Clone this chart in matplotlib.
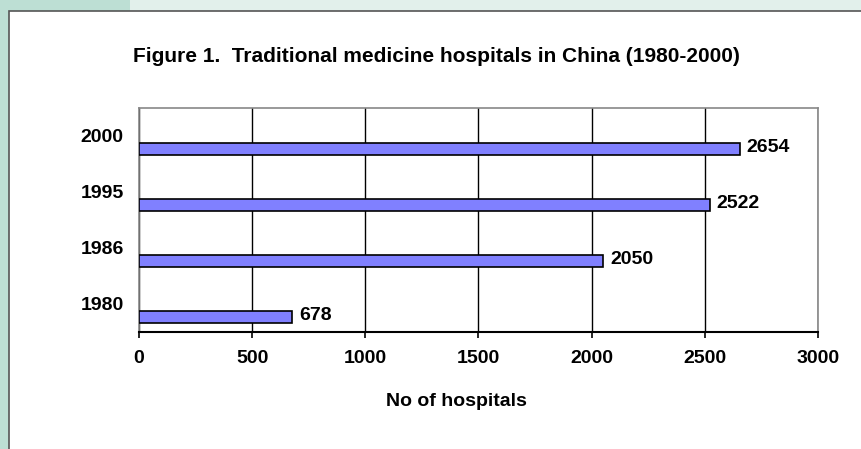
import matplotlib
matplotlib.use("Agg")
import matplotlib.pyplot as plt
from matplotlib.patches import Rectangle

# data
years = ["1980", "1986", "1995", "2000"]
hospitals = [678, 2050, 2522, 2654]
xticks = [0, 500, 1000, 1500, 2000, 2500, 3000]

plt.rcParams['font.family'] = ['Liberation Sans', 'DejaVu Sans']
plt.rcParams['font.weight'] = 'bold'

W, H = 862, 449
fig = plt.figure(figsize=(W / 100, H / 100), dpi=100)
fig.patch.set_facecolor('white')

# page background strips and the white frame
def px_rect(x, y, w, h, **kw):
    fig.add_artist(Rectangle((x / W, 1 - (y + h) / H), w / W, h / H,
                             transform=fig.transFigure, **kw))

px_rect(130, 0, W - 130, 11, facecolor='#e2f0eb', edgecolor='none')
px_rect(0, 0, 130, 11, facecolor='#bddfd4', edgecolor='none')
px_rect(0, 0, 9, H, facecolor='#bddfd4', edgecolor='none')
px_rect(9.5, 11, W + 20, H + 20, facecolor='none', edgecolor='#555555', linewidth=1.2)

ax = fig.add_axes([139 / W, (H - 332) / H, 679 / W, 224 / H])
ax.set_facecolor('white')

pos = list(range(len(years)))
bar_y = [p - 0.23 for p in pos]
ax.barh(bar_y, hospitals, height=0.22, color='#8080ff', edgecolor='black',
        linewidth=1.2, zorder=3)

for y, v in zip(bar_y, hospitals):
    ax.annotate(str(v), (v, y), xytext=(5, 1), textcoords='offset points',
                ha='left', va='center', fontsize=14, fontweight='bold')

ax.set_xlim(0, 3000)
ax.set_ylim(-0.5, 3.5)
ax.set_xticks(xticks)
ax.set_xticklabels([str(t) for t in xticks], fontsize=14, fontweight='bold')
ax.set_yticks(pos)
ax.set_yticklabels(years, fontsize=14, fontweight='bold')
ax.tick_params(axis='y', length=0, pad=11)
ax.tick_params(axis='x', length=4, width=1.2, direction='out', pad=9, color='black')
ax.xaxis.grid(True, color='black', linewidth=1.0, zorder=0)
ax.set_axisbelow(True)

for s in ['left', 'top', 'right']:
    ax.spines[s].set_color('#888888')
    ax.spines[s].set_linewidth(1.2)
ax.spines['bottom'].set_color('black')
ax.spines['bottom'].set_linewidth(1.5)

fig.text(436 / W, 1 - 57 / H,
         "Figure 1.  Traditional medicine hospitals in China (1980-2000)",
         ha='center', va='center', fontsize=15, fontweight='bold')
fig.text(456 / W, 1 - 401 / H, "No of hospitals",
         ha='center', va='center', fontsize=14, fontweight='bold')

fig.savefig('out.png', dpi=100)
